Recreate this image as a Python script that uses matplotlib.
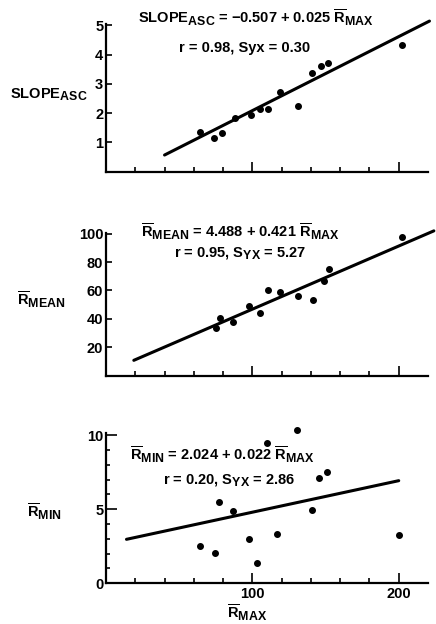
import matplotlib
matplotlib.use("Agg")
import matplotlib.pyplot as plt
import numpy as np
from matplotlib.ticker import MultipleLocator, FixedLocator

try:
    import matplotlib._mathtext as _mt
    _mt.SHRINK_FACTOR = 0.85
except Exception:
    pass

plt.rcParams['font.family'] = ['Liberation Sans', 'DejaVu Sans']
plt.rcParams['font.weight'] = 'bold'
plt.rcParams['mathtext.fontset'] = 'custom'
plt.rcParams['mathtext.rm'] = 'Liberation Sans:bold'
plt.rcParams['mathtext.it'] = 'Liberation Sans:bold'
plt.rcParams['mathtext.bf'] = 'Liberation Sans:bold'
plt.rcParams['mathtext.sf'] = 'Liberation Sans:bold'
plt.rcParams['mathtext.default'] = 'rm'

# ---- data ----
slope_x = [64, 74, 79, 88, 99, 105.5, 111, 119, 131, 141, 147, 152, 202.5]
slope_y = [1.37, 1.14, 1.31, 1.82, 1.93, 2.16, 2.13, 2.73, 2.24, 3.36, 3.61, 3.72, 4.32]
slope_fit_x = [40, 221]
slope_fit_y = [0.57, 5.15]

mean_x = [75, 78, 87, 97.5, 105, 111, 119, 131.5, 141.5, 149, 152.5, 202.5]
mean_y = [33.3, 40.3, 38, 49, 43.8, 60.1, 59, 56, 53.6, 67, 75.3, 97.6]
mean_fit_x = [19, 224]
mean_fit_y = [10.7, 102]

min_x = [64, 74.7, 77, 87, 97.5, 103, 110, 116.5, 130.5, 141, 145.5, 151, 200]
min_y = [2.54, 2.03, 5.51, 4.9, 2.97, 1.39, 9.46, 3.33, 10.36, 4.95, 7.14, 7.54, 3.26]
min_fit_x = [14, 200]
min_fit_y = [2.97, 6.93]

W, H = 436, 624
fig = plt.figure(figsize=(W / 100, H / 100), dpi=100)


def px(x, y):
    return x / W, 1 - y / H


def make_ax(top, bottom, ylim):
    left, right = 106, 428
    ax = fig.add_axes([left / W, 1 - bottom / H, (right - left) / W, (bottom - top) / H])
    ax.set_xlim(0, 220)
    ax.set_ylim(*ylim)
    for s in ['top', 'right']:
        ax.spines[s].set_visible(False)
    for s in ['left', 'bottom']:
        ax.spines[s].set_linewidth(1.6)
    ax.xaxis.set_major_locator(FixedLocator([100, 200]))
    ax.xaxis.set_minor_locator(FixedLocator([20, 40, 60, 80, 120, 140, 160, 180]))
    ax.tick_params(axis='both', which='both', direction='in', width=1.2, labelsize=10.5)
    ax.tick_params(axis='x', which='major', length=7, pad=3)
    ax.tick_params(axis='x', which='minor', length=3.5)
    ax.tick_params(axis='y', which='major', length=4, pad=2)
    ax.tick_params(axis='y', which='minor', length=3)
    return ax


ax1 = make_ax(24, 171.7, (0, 5.05))
ax2 = make_ax(233, 375.5, (0, 100.5))
ax3 = make_ax(433, 583.3, (0, 10.15))

ax1.yaxis.set_major_locator(FixedLocator([1, 2, 3, 4, 5]))
ax2.yaxis.set_major_locator(FixedLocator([20, 40, 60, 80, 100]))
ax3.yaxis.set_major_locator(FixedLocator([0, 5, 10]))
ax3.yaxis.set_minor_locator(MultipleLocator(1))
ax3.tick_params(axis='y', which='major', length=8)

ax1.tick_params(axis='x', labelbottom=False)
ax2.tick_params(axis='x', labelbottom=False)

for ax, xs, ys, fx, fy in [
    (ax1, slope_x, slope_y, slope_fit_x, slope_fit_y),
    (ax2, mean_x, mean_y, mean_fit_x, mean_fit_y),
    (ax3, min_x, min_y, min_fit_x, min_fit_y),
]:
    ax.scatter(xs, ys, s=16, color='black', zorder=3, clip_on=False)
    ax.plot(fx, fy, color='black', lw=2.2, solid_capstyle='round', clip_on=False)

fs = 10.5
# equations
fig.text(*px(256, 18), r'$\mathrm{SLOPE}_{\mathrm{ASC}}$ = $-$0.507 + 0.025 $\overline{\mathrm{R}}_{\mathrm{MAX}}$',
         ha='center', va='center', fontsize=fs)
fig.text(*px(245, 48), 'r = 0.98, Syx = 0.30', ha='center', va='center', fontsize=fs)
fig.text(*px(240, 232), r'$\overline{\mathrm{R}}_{\mathrm{MEAN}}$ = 4.488 + 0.421 $\overline{\mathrm{R}}_{\mathrm{MAX}}$',
         ha='center', va='center', fontsize=fs)
fig.text(*px(240, 253), r'r = 0.95, $\mathrm{S}_{\mathrm{YX}}$ = 5.27', ha='center', va='center', fontsize=fs)
fig.text(*px(222, 455), r'$\overline{\mathrm{R}}_{\mathrm{MIN}}$ = 2.024 + 0.022 $\overline{\mathrm{R}}_{\mathrm{MAX}}$',
         ha='center', va='center', fontsize=fs)
fig.text(*px(229, 480), r'r = 0.20, $\mathrm{S}_{\mathrm{YX}}$ = 2.86', ha='center', va='center', fontsize=fs)

# axis labels
fig.text(*px(10, 95), r'$\mathrm{SLOPE}_{\mathrm{ASC}}$', ha='left', va='center', fontsize=fs)
fig.text(*px(17, 300), r'$\overline{\mathrm{R}}_{\mathrm{MEAN}}$', ha='left', va='center', fontsize=fs)
fig.text(*px(27, 512), r'$\overline{\mathrm{R}}_{\mathrm{MIN}}$', ha='left', va='center', fontsize=fs)
fig.text(*px(247, 613), r'$\overline{\mathrm{R}}_{\mathrm{MAX}}$', ha='center', va='center', fontsize=fs)

fig.savefig('out.png', dpi=100)
